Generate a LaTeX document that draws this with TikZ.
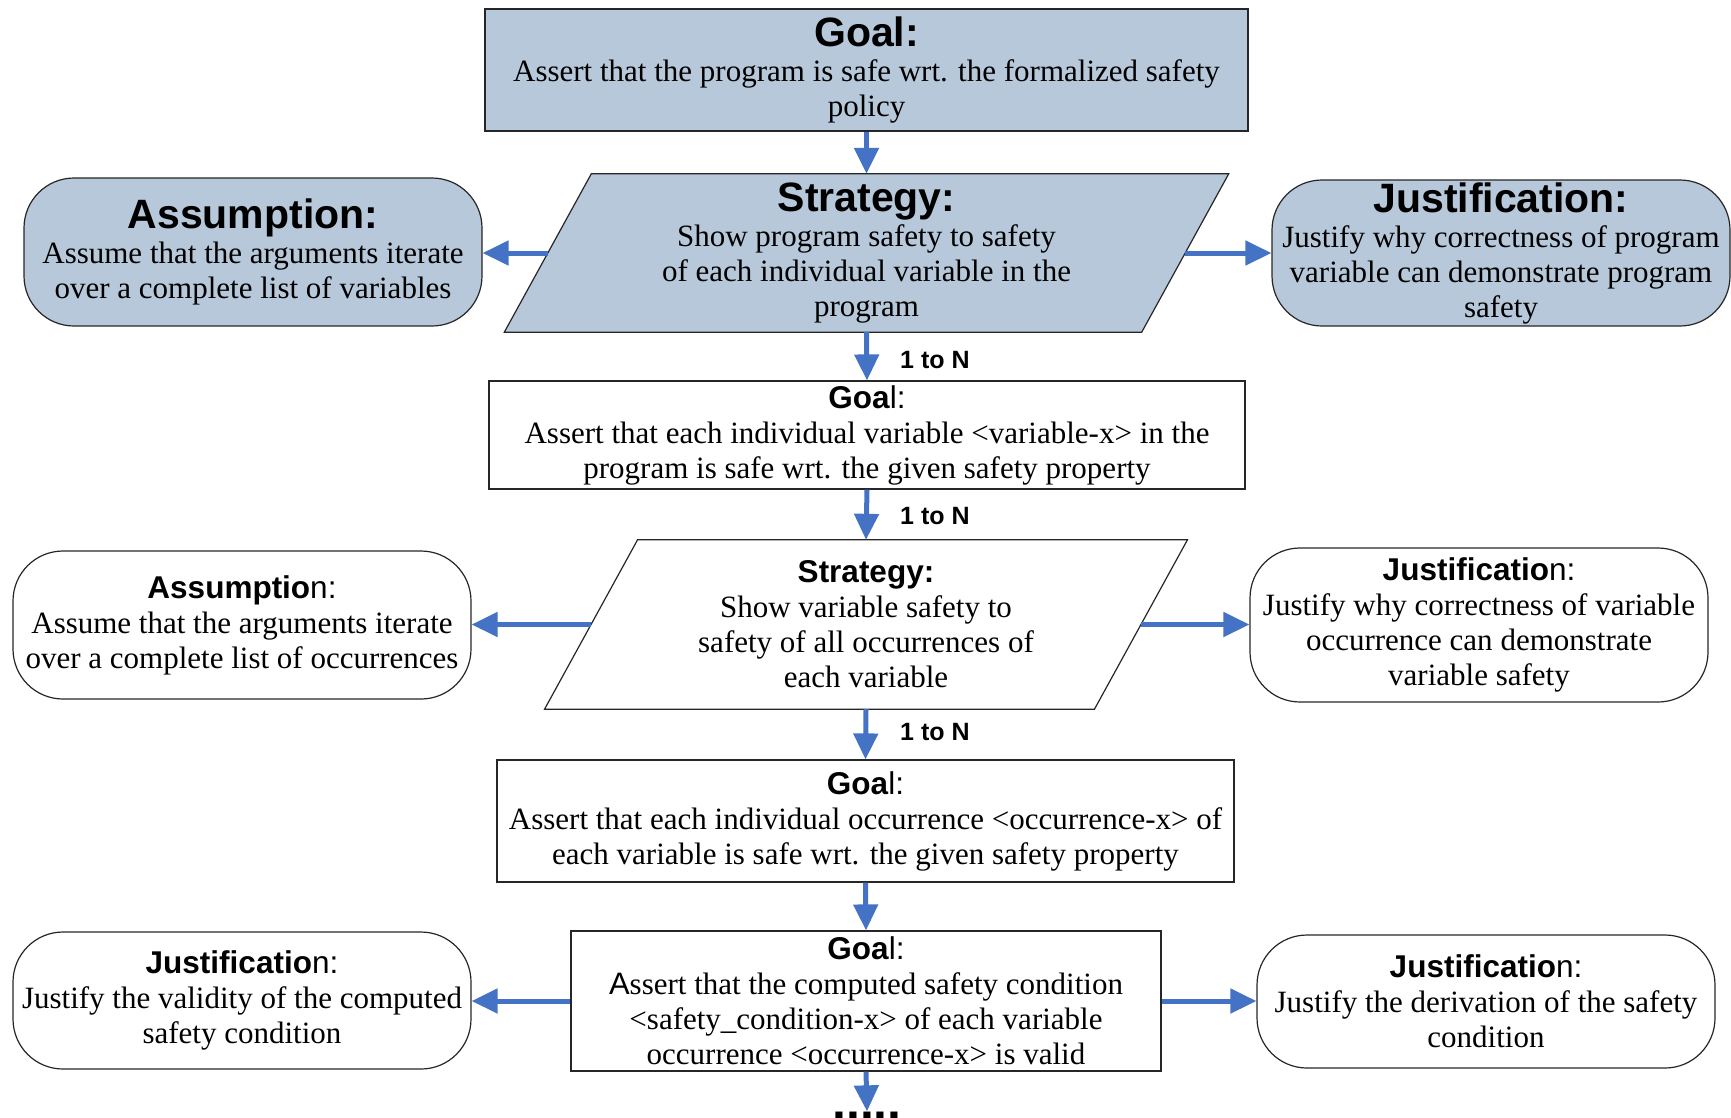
\documentclass[tikz,border=0pt]{standalone}
\usepackage{fontspec}
\setmainfont{Liberation Serif}
\setsansfont{Liberation Sans}
\usetikzlibrary{arrows.meta}
\definecolor{boxblue}{RGB}{182,200,218}
\definecolor{arrowblue}{RGB}{68,114,196}
\newcommand\bigtitle[1]{{\sffamily\bfseries\fontsize{41}{44}\selectfont #1}}
\newcommand\smtitle[2]{{\sffamily\fontsize{31.5}{35}\selectfont\textbf{#1}#2}}
\tikzset{
  body/.style={font=\fontsize{31}{35}\selectfont, align=center, inner sep=0pt},
  goalbox/.style={body, draw=black!85, line width=1.2pt, rectangle},
  roundbox/.style={body, draw=black!85, line width=1.2pt, rounded corners=50pt},
  stratbox/.style={body, rectangle},
  bluefill/.style={fill=boxblue},
  para/.style={draw=black!85, line width=1.2pt},
  conn/.style={draw=arrowblue, line width=5pt, -{Triangle[width=24pt,length=26pt]}},
  lab/.style={font=\sffamily\bfseries\fontsize{25}{30}\selectfont, anchor=west, inner sep=0pt}
}
\begin{document}
\begin{tikzpicture}[x=1pt,y=-1pt]
\useasboundingbox (0,0) rectangle (1731,1117);

% ---- level 1
\node[goalbox,bluefill,minimum width=763pt,minimum height=122pt] (g1) at (866.5,70)
  {\bigtitle{Goal:}\\Assert that the program is safe wrt. the formalized safety\\policy};

\node[stratbox,minimum width=637pt,minimum height=158pt] (s1) at (866.5,253) {};
\filldraw[para,fill=boxblue] ([xshift=43.5pt]s1.north west) -- ([xshift=43.5pt]s1.north east)
  -- ([xshift=-43.5pt]s1.south east) -- ([xshift=-43.5pt]s1.south west) -- cycle;
\node[body] (s1t) at (s1.center) {\bigtitle{Strategy:}\\Show program safety to safety\\of each individual variable in the\\program};

\node[roundbox,bluefill,minimum width=458pt,minimum height=148pt] (a1) at (253,252)
  {\bigtitle{Assumption:}\\Assume that the arguments iterate\\over a complete list of variables};
\node[roundbox,bluefill,minimum width=458pt,minimum height=146pt] (j1) at (1501,253)
  {\bigtitle{Justification:}\\Justify why correctness of program\\variable can demonstrate program\\safety};

% ---- level 2
\node[goalbox,minimum width=756pt,minimum height=108pt] (g2) at (867,435)
  {\smtitle{Goa}{l:}\\Assert that each individual variable <variable-x> in the\\program is safe wrt. the given safety property};

\node[stratbox,minimum width=549.5pt,minimum height=169pt] (s2) at (866,624.5) {};
\draw[para] ([xshift=46.5pt]s2.north west) -- ([xshift=46.5pt]s2.north east)
  -- ([xshift=-46.5pt]s2.south east) -- ([xshift=-46.5pt]s2.south west) -- cycle;
\node[body] (s2t) at (s2.center) {\smtitle{Strategy:}{}\\Show variable safety to\\safety of all occurrences of\\each variable};

\node[roundbox,minimum width=458pt,minimum height=148pt] (a2) at (242,625)
  {\smtitle{Assumptio}{n:}\\Assume that the arguments iterate\\over a complete list of occurrences};
\node[roundbox,minimum width=458pt,minimum height=154pt] (j2) at (1479,625)
  {\smtitle{Justificatio}{n:}\\Justify why correctness of variable\\occurrence can demonstrate\\variable safety};

% ---- level 3
\node[goalbox,minimum width=737pt,minimum height=122pt] (g3) at (865.5,821)
  {\smtitle{Goa}{l:}\\Assert that each individual occurrence <occurrence-x> of\\each variable is safe wrt. the given safety property};

\node[goalbox,minimum width=590pt,minimum height=140pt] (g4) at (866,1001)
  {\smtitle{Goa}{l:}\\{\sffamily A}ssert that the computed safety condition\\<safety\_condition-x> of each variable\\occurrence <occurrence-x> is valid};

\node[roundbox,minimum width=458pt,minimum height=137pt] (j3) at (242,1000.5)
  {\smtitle{Justificatio}{n:}\\Justify the validity of the computed\\safety condition};
\node[roundbox,minimum width=458pt,minimum height=133pt] (j4) at (1486,1001.5)
  {\smtitle{Justificatio}{n:}\\Justify the derivation of the safety\\condition};

\node[font=\sffamily\bfseries\fontsize{50}{50}\selectfont, anchor=base, inner sep=0pt] (dots) at (867,1119) {.....};

% ---- connectors
\draw[conn] (g1.south) -- (s1.north);
\draw[conn] (s1.west) -- (s1.west -| a1.east);
\draw[conn] (s1.east) -- (s1.east -| j1.west);
\draw[conn] (s1.south) -- (g2.north);
\draw[conn] (g2.south) -- (s2.north);
\draw[conn] (s2.west) -- (s2.west -| a2.east);
\draw[conn] (s2.east) -- (s2.east -| j2.west);
\draw[conn] (s2.south) -- (g3.north);
\draw[conn] (g3.south) -- (g4.north);
\draw[conn] (g4.west) -- (g4.west -| j3.east);
\draw[conn] (g4.east) -- (g4.east -| j4.west);
\draw[conn] (g4.south) -- (dots.north);

\node[lab] (l1) at (900,360) {1 to N};
\node[lab] (l2) at (900,516) {1 to N};
\node[lab] (l3) at (900,732) {1 to N};
\end{tikzpicture}
\end{document}
